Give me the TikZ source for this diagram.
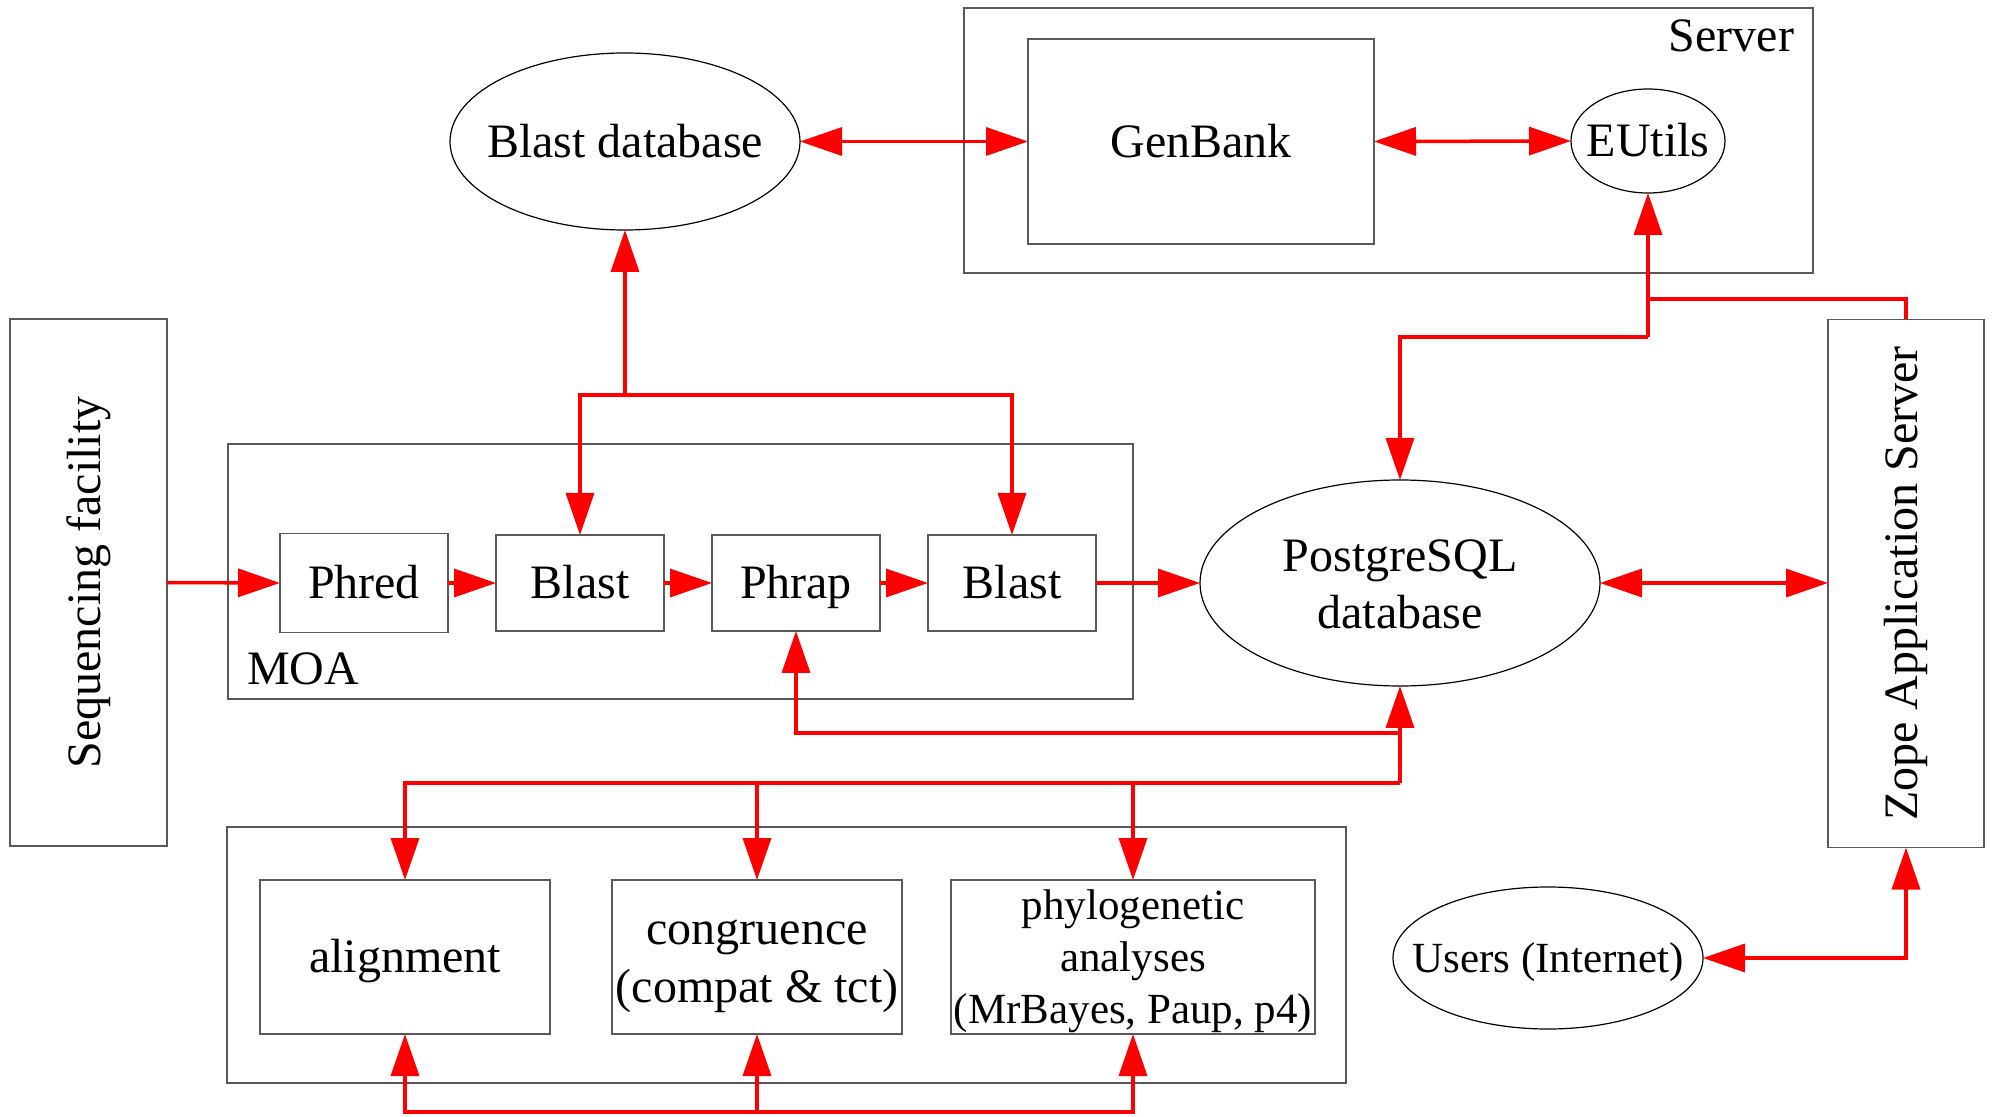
\documentclass[tikz,border=0pt]{standalone}
\usepackage{fontspec}
\setmainfont{Liberation Serif}
\usetikzlibrary{arrows.meta,shapes.geometric,calc}
\begin{document}
\begin{tikzpicture}[x=0.5pt,y=-0.5pt,
  every node/.style={font=\fontsize{24}{28.5}\selectfont, inner sep=0pt, outer sep=0pt},
  oneline/.style={text height=15.8pt, text depth=0pt},
  box/.style={draw=black!65, line width=0.9pt, rectangle},
  oval/.style={draw=black, line width=0.6pt, ellipse},
  arr/.style={draw=red, line width=1.75pt, -{Triangle[length=21pt,width=14pt]}},
  dbl/.style={draw=red, line width=1.75pt, {Triangle[length=21pt,width=14pt]}-{Triangle[length=21pt,width=14pt]}},
  wire/.style={draw=red, line width=1.75pt}]
\useasboundingbox (0,0) rectangle (1994,1117);

% left and right tall boxes
\node[box, minimum width=78.5pt, minimum height=263.5pt] (seq) at (88.5,582.5) {};
\node[rotate=90] (seqtxt) at (seq.center) {Sequencing facility};
\node[box, minimum width=78pt, minimum height=264pt] (zope) at (1906,583.5) {};
\node[rotate=90] (zopetxt) at (zope.center) {Zope Application Server};

% server group
\node[box, minimum width=424.5pt, minimum height=132.5pt] (server) at (1388.5,140.5) {};
\node[anchor=base east] (servertxt) at (1794,52) {Server};
\node[box, oneline, minimum width=173pt, minimum height=102.5pt] (genbank) at (1201,141.5) {GenBank};
\node[oval, minimum width=77pt, minimum height=52pt, label={[oneline]center:EUtils}] (eutils) at (1648,141) {};
\node[oval, minimum width=175pt, minimum height=88.5pt, label={[oneline]center:Blast database}] (blastdb) at (625,141.5) {};

% MOA group
\node[box, minimum width=452.5pt, minimum height=127.5pt] (moa) at (680.5,571.5) {};
\node[anchor=base west] (moatxt) at (247,685) {MOA};
\node[box, oneline, minimum width=84pt, minimum height=49.5pt] (phred) at (364,583) {Phred};
\node[box, oneline, minimum width=84pt, minimum height=48pt] (blasta) at (580,583) {Blast};
\node[box, oneline, minimum width=84pt, minimum height=48pt] (phrap) at (796,583) {Phrap};
\node[box, oneline, minimum width=84pt, minimum height=48pt] (blastb) at (1012,583) {Blast};

% database and users
\node[oval, minimum width=200pt, minimum height=103pt, label={[align=center, yshift=-0.5pt]center:PostgreSQL\\database}] (pg) at (1400,583) {};
\node[oval, minimum width=155pt, minimum height=71pt, label={[oneline, font=\fontsize{21.5}{26}\selectfont, text height=14.2pt]center:Users (Internet)}] (users) at (1548,958) {};

% analysis group
\node[box, minimum width=559.5pt, minimum height=128pt] (anabox) at (786.5,955) {};
\node[box, oneline, minimum width=145pt, minimum height=77pt] (align) at (405,957) {alignment};
\node[box, minimum width=145pt, minimum height=77pt,
  label={[align=center, yshift=-4.5pt, font=\fontsize{24}{29}\selectfont]center:congruence\\(compat \& tct)}] (cong) at (757,957) {};
\node[box, minimum width=182pt, minimum height=77pt,
  label={[align=center, yshift=-2.25pt, font=\fontsize{21.5}{26}\selectfont]center:phylogenetic\\analyses\\(MrBayes, Paup, p4)}] (phylo) at (1133,957) {};

% connectors
\draw[dbl] (blastdb.east) -- (genbank.west);
\draw[dbl] (genbank.east) -- (eutils.west);

\coordinate (jblast) at (625,395);
\draw[arr] (jblast) -- (blastdb.south);
\draw[arr] (jblast) -| (blasta.north);
\draw[arr] (jblast) -| (blastb.north);

\draw[arr] (seq.east) -- (phred.west);
\draw[arr] (phred.east) -- (blasta.west);
\draw[arr] (blasta.east) -- (phrap.west);
\draw[arr] (phrap.east) -- (blastb.west);
\draw[arr] (blastb.east) -- (pg.west);
\draw[dbl] (pg.east) -- (pg.east -| zope.west);

\coordinate (jeu) at (1648,337);
\coordinate (jzope) at (1648,299);
\draw[arr] (jeu) -- (eutils.south);
\draw[arr] (jeu) -| (pg.north);
\draw[wire] (jzope) -| (zope.north);

\coordinate (jpg) at (1400,733);
\coordinate (jana) at (1400,783);
\draw[dbl] (phrap.south) |- (jpg) -- (pg.south);
\draw[wire] (jpg) -- (jana);
\draw[arr] (jana) -| (align.north);
\draw[arr] (jana) -| (cong.north);
\draw[arr] (jana) -| (phylo.north);

\coordinate (jbot) at (757,1112);
\draw[arr] (jbot) -| (align.south);
\draw[arr] (jbot) -- (cong.south);
\draw[arr] (jbot) -| (phylo.south);

\draw[dbl] (users.east) -| (zope.south);
\end{tikzpicture}
\end{document}
